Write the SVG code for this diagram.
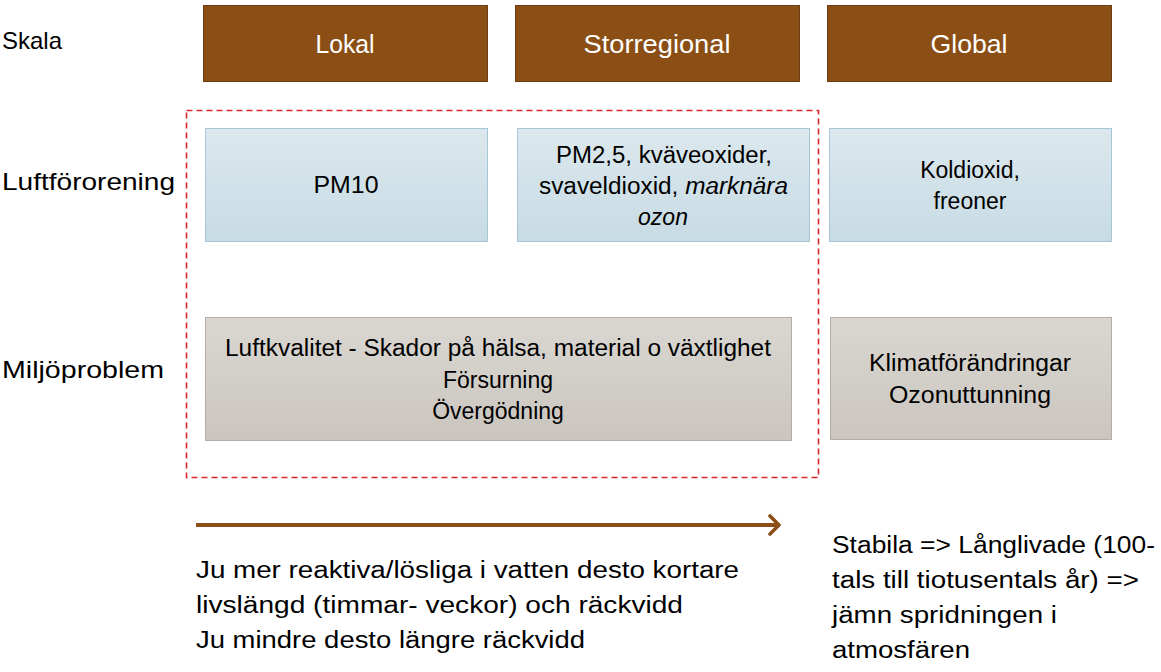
<svg xmlns="http://www.w3.org/2000/svg" width="1161" height="672" viewBox="0 0 1161 672">
<defs>
<linearGradient id="gBlue" x1="0" y1="0" x2="0" y2="1"><stop offset="0" stop-color="#dce8ee"/><stop offset="1" stop-color="#c7dbe4"/></linearGradient>
<linearGradient id="gGrey" x1="0" y1="0" x2="0" y2="1"><stop offset="0" stop-color="#dad7d2"/><stop offset="1" stop-color="#cac5be"/></linearGradient>
<marker id="arr" viewBox="0 0 14 22" refX="11" refY="11" markerWidth="3.5" markerHeight="5.5" orient="auto" markerUnits="strokeWidth"><path d="M2 2 L11 11 L2 20" fill="none" stroke="#8b4f17" stroke-width="3.6" stroke-linecap="round" stroke-linejoin="round"/></marker>
</defs>
<style>
text{font-family:"Liberation Sans",Arial,sans-serif;fill:#000}
.lbl{font-size:24px}
.hdr{font-size:25px;fill:#fff;text-anchor:middle}
.box{font-size:23px;text-anchor:middle}
.brown{fill:#8b4f15;stroke:#6e3e10;stroke-width:1}
.blue{fill:url(#gBlue);stroke:#a9c6d4;stroke-width:1}
.grey{fill:url(#gGrey);stroke:#b3ada6;stroke-width:1}
.note{font-size:23px}
</style>
<rect width="1161" height="672" fill="#fff"/>
<g id="row-labels">
<text class="lbl" x="2" y="49">Skala</text>
<text class="lbl" x="2" y="190" textLength="173" lengthAdjust="spacingAndGlyphs">Luftförorening</text>
<text class="lbl" x="2" y="378" textLength="162" lengthAdjust="spacingAndGlyphs">Miljöproblem</text>
</g>
<g id="lokal"><rect class="brown" x="203.5" y="5.5" width="284" height="76"/><text class="hdr" x="345" y="53" textLength="59" lengthAdjust="spacingAndGlyphs">Lokal</text></g>
<g id="storregional"><rect class="brown" x="515.5" y="5.5" width="284" height="76"/><text class="hdr" x="657" y="53" textLength="147" lengthAdjust="spacingAndGlyphs">Storregional</text></g>
<g id="global"><rect class="brown" x="827.5" y="5.5" width="284" height="76"/><text class="hdr" x="969" y="53" textLength="77" lengthAdjust="spacingAndGlyphs">Global</text></g>
<g id="dashed-region"><rect x="186.5" y="110.5" width="632" height="367" fill="none" stroke="#d9262b" stroke-width="1.6" stroke-dasharray="6,4"/></g>
<g id="pm10"><rect class="blue" x="205.5" y="128.5" width="282" height="113"/><text class="box" x="346" y="193" textLength="65" lengthAdjust="spacingAndGlyphs">PM10</text></g>
<g id="pm25"><rect class="blue" x="517.5" y="128.5" width="292" height="113"/>
<text class="box" x="664" y="163" textLength="216" lengthAdjust="spacingAndGlyphs">PM2,5, kväveoxider,</text>
<text class="box" x="539" y="194" style="text-anchor:start" textLength="249" lengthAdjust="spacingAndGlyphs">svaveldioxid, <tspan font-style="italic">marknära</tspan></text>
<text class="box" x="663" y="225" font-style="italic">ozon</text></g>
<g id="koldioxid"><rect class="blue" x="829.5" y="128.5" width="282" height="113"/>
<text class="box" x="970" y="178">Koldioxid,</text><text class="box" x="970" y="209">freoner</text></g>
<g id="miljo-lokal"><rect class="grey" x="205.5" y="317.5" width="586" height="123"/>
<text class="box" x="498" y="356" textLength="546" lengthAdjust="spacingAndGlyphs">Luftkvalitet - Skador på hälsa, material o växtlighet</text>
<text class="box" x="498" y="388">Försurning</text>
<text class="box" x="498" y="419">Övergödning</text></g>
<g id="miljo-global"><rect class="grey" x="830.5" y="317.5" width="281" height="122"/>
<text class="box" x="970" y="371" textLength="202" lengthAdjust="spacingAndGlyphs">Klimatförändringar</text>
<text class="box" x="970" y="403" textLength="162" lengthAdjust="spacingAndGlyphs">Ozonuttunning</text></g>
<g id="connectors"><line x1="196" y1="525" x2="779" y2="525" stroke="#8b4f17" stroke-width="4" marker-end="url(#arr)"/></g>
<g id="note-left">
<text class="note" x="196" y="578" textLength="543" lengthAdjust="spacingAndGlyphs">Ju mer reaktiva/lösliga i vatten desto kortare</text>
<text class="note" x="196" y="613" textLength="487" lengthAdjust="spacingAndGlyphs">livslängd (timmar- veckor) och räckvidd</text>
<text class="note" x="196" y="648" textLength="389" lengthAdjust="spacingAndGlyphs">Ju mindre desto längre räckvidd</text>
</g>
<g id="note-right">
<text class="note" x="832" y="553" textLength="323" lengthAdjust="spacingAndGlyphs">Stabila =&gt; Långlivade (100-</text>
<text class="note" x="832" y="588" textLength="307" lengthAdjust="spacingAndGlyphs">tals till tiotusentals år) =&gt;</text>
<text class="note" x="832" y="623" textLength="225" lengthAdjust="spacingAndGlyphs">jämn spridningen i</text>
<text class="note" x="832" y="658" textLength="138" lengthAdjust="spacingAndGlyphs">atmosfären</text>
</g>
</svg>
